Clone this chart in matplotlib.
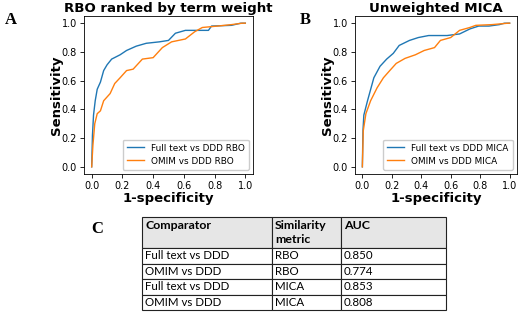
import matplotlib
matplotlib.use("Agg")
import matplotlib.pyplot as plt

# ---- data ----
fpr_full_rbo = [0.0, 0.005, 0.012, 0.023, 0.036, 0.057, 0.078, 0.10, 0.13, 0.185, 0.227, 0.29, 0.355, 0.44, 0.50, 0.545, 0.61, 0.69, 0.76, 0.78, 0.91, 0.97, 1.0]
tpr_full_rbo = [0.0, 0.22, 0.36, 0.46, 0.54, 0.59, 0.67, 0.71, 0.75, 0.78, 0.81, 0.84, 0.86, 0.87, 0.88, 0.93, 0.95, 0.95, 0.95, 0.98, 0.985, 1.0, 1.0]
fpr_omim_rbo = [0.0, 0.008, 0.02, 0.036, 0.057, 0.078, 0.12, 0.15, 0.185, 0.227, 0.27, 0.33, 0.40, 0.46, 0.52, 0.61, 0.67, 0.72, 0.82, 0.91, 0.98, 1.0]
tpr_omim_rbo = [0.0, 0.15, 0.30, 0.37, 0.39, 0.46, 0.51, 0.58, 0.62, 0.67, 0.68, 0.75, 0.76, 0.83, 0.87, 0.89, 0.94, 0.97, 0.98, 0.99, 1.0, 1.0]
fpr_full_mica = [0.0, 0.004, 0.01, 0.035, 0.078, 0.12, 0.165, 0.21, 0.25, 0.32, 0.38, 0.45, 0.575, 0.66, 0.73, 0.79, 0.86, 0.93, 0.965, 1.0]
tpr_full_mica = [0.0, 0.25, 0.36, 0.46, 0.62, 0.70, 0.75, 0.79, 0.845, 0.88, 0.90, 0.914, 0.914, 0.925, 0.96, 0.98, 0.98, 0.99, 1.0, 1.0]
fpr_omim_mica = [0.0, 0.006, 0.024, 0.056, 0.10, 0.143, 0.186, 0.23, 0.29, 0.36, 0.42, 0.49, 0.53, 0.60, 0.66, 0.73, 0.77, 0.88, 0.99, 1.0]
tpr_omim_mica = [0.0, 0.25, 0.37, 0.46, 0.55, 0.62, 0.67, 0.72, 0.755, 0.78, 0.81, 0.83, 0.88, 0.90, 0.95, 0.97, 0.985, 0.99, 1.0, 1.0]

titles = ["RBO ranked by term weight", "Unweighted MICA"]
legend_a = ["Full text vs DDD RBO", "OMIM vs DDD RBO"]
legend_b = ["Full text vs DDD MICA", "OMIM vs DDD MICA"]
xlabel = "1-specificity"
ylabel = "Sensitivity"
panel_labels = ["A", "B", "C"]

table_header = ["Comparator", "Similarity\nmetric", "AUC"]
table_comparator = ["Full text vs DDD", "OMIM vs DDD", "Full text vs DDD", "OMIM vs DDD"]
table_metric = ["RBO", "RBO", "MICA", "MICA"]
table_auc = ["0.850", "0.774", "0.853", "0.808"]

W, H = 520, 314
fig = plt.figure(figsize=(W / 100, H / 100), dpi=100)

def fbox(x0, y0, x1, y1):
    return [x0 / W, 1 - y1 / H, (x1 - x0) / W, (y1 - y0) / H]

blue = "#1f77b4"
orange = "#ff7f0e"

def roc_panel(rect, title, data, labels):
    ax = fig.add_axes(rect)
    (f1, t1), (f2, t2) = data
    ax.plot(f1, t1, color=blue, lw=1.0, label=labels[0])
    ax.plot(f2, t2, color=orange, lw=1.0, label=labels[1])
    ax.set_xticks([0, 0.2, 0.4, 0.6, 0.8, 1.0])
    ax.set_yticks([0, 0.2, 0.4, 0.6, 0.8, 1.0])
    ax.tick_params(labelsize=7, length=3, width=0.6, pad=2)
    for s in ax.spines.values():
        s.set_linewidth(0.6)
    ax.set_xlabel(xlabel, fontsize=9.5, fontweight="bold", labelpad=1)
    ax.set_ylabel(ylabel, fontsize=9.5, fontweight="bold", labelpad=-1)
    ax.set_title(title, fontsize=9.6, fontweight="bold", pad=3)
    ax.legend(loc="lower right", fontsize=6.4, frameon=True, handlelength=1.9,
              borderpad=0.45, labelspacing=0.45, framealpha=1, edgecolor="#cccccc",
              borderaxespad=0.5)
    return ax

axA = roc_panel(fbox(84, 16, 253, 174), titles[0],
                [(fpr_full_rbo, tpr_full_rbo), (fpr_omim_rbo, tpr_omim_rbo)], legend_a)
axB = roc_panel(fbox(355, 16, 517, 174), titles[1],
                [(fpr_full_mica, tpr_full_mica), (fpr_omim_mica, tpr_omim_mica)], legend_b)

serif = "Liberation Serif"
fig.text(11 / W, 1 - 20 / H, panel_labels[0], family=serif, fontweight="bold", fontsize=12, ha="center", va="center")
fig.text(305 / W, 1 - 20 / H, panel_labels[1], family=serif, fontweight="bold", fontsize=12, ha="center", va="center")
fig.text(97 / W, 1 - 229 / H, panel_labels[2], family=serif, fontweight="bold", fontsize=12, ha="center", va="center")

# ---- table ----
axT = fig.add_axes(fbox(142, 217, 446, 310))
axT.axis("off")
rows = [list(r) for r in zip(table_comparator, table_metric, table_auc)]
col_w = [272 - 142, 341 - 272, 446 - 341]
tot = sum(col_w)
tbl = axT.table(cellText=rows, colLabels=table_header,
                colWidths=[c / tot for c in col_w], cellLoc="left", colLoc="left",
                bbox=[0, 0, 1, 1])
tbl.auto_set_font_size(False)
for (r, c), cell in tbl.get_celld().items():
    cell.PAD = 3.0 / col_w[c]
    cell.set_linewidth(0.8)
    cell.set_edgecolor("#222222")
    txt = cell.get_text()
    txt.set_fontsize(8.3)
    txt.set_family("Lato")
    if r == 0:
        cell.set_height(cell.get_height() * 2)
        cell.set_facecolor("#e6e6e6")
        txt.set_fontweight("bold")
        txt.set_fontsize(8.9)
        if "\n" not in txt.get_text():
            txt.set_text(txt.get_text() + "\n ")
        txt.set_linespacing(1.4)

fig.savefig("out.png", dpi=100)
